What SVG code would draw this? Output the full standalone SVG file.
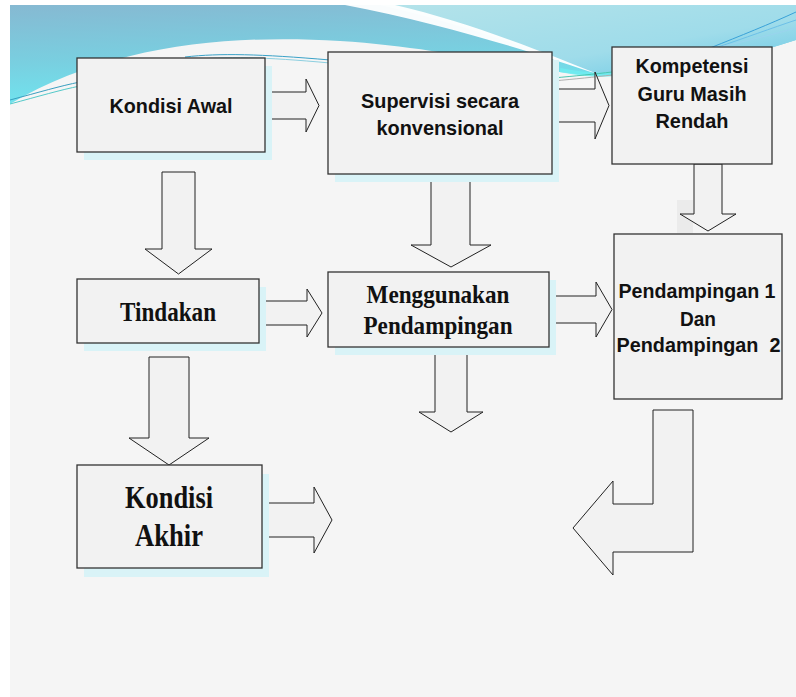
<svg xmlns="http://www.w3.org/2000/svg" width="796" height="697" viewBox="0 0 796 697">
<defs>
<linearGradient id="gBlue" x1="0" y1="0" x2="0.25" y2="1">
<stop offset="0" stop-color="#86b9d2"/>
<stop offset="0.55" stop-color="#79cfe0"/>
<stop offset="1" stop-color="#6fe6f0"/>
</linearGradient>
<linearGradient id="gRight" x1="0" y1="0" x2="1" y2="1">
<stop offset="0" stop-color="#b4e3ea"/>
<stop offset="0.6" stop-color="#9fdcea"/>
<stop offset="1" stop-color="#64c6e4"/>
</linearGradient>
<style>
.box{fill:#f2f2f2;stroke:#333;stroke-width:1.3}
.sh{fill:#d9f3f7}
.arr{fill:#f2f2f2;stroke:#222;stroke-width:1}
.sans{font-family:"Liberation Sans",Arial,sans-serif;font-weight:bold;font-size:21px;fill:#111;text-anchor:middle}
.serif{font-family:"Liberation Serif","Times New Roman",serif;font-weight:bold;fill:#111;text-anchor:middle}
.deco{fill:none;stroke-width:1}
</style>
</defs>
<rect x="0" y="0" width="796" height="697" fill="#ffffff"/>
<rect x="10" y="5" width="786" height="692" fill="#f5f5f5"/>
<!-- header decoration -->
<path d="M10,5 H796 V40 C760,52 720,62 680,68 C650,72 620,76 600,76 C530,72 450,48 340,41 C230,34 110,45 10,104 Z" fill="url(#gBlue)"/>
<path d="M380,5 H796 V40 C760,52 720,62 680,68 C650,72 620,76 600,76 C560,60 470,25 380,5 Z" fill="url(#gRight)"/>
<path d="M345,5 L395,5 C470,22 550,55 603,76 C540,55 450,25 345,5 Z" fill="#ffffff" opacity="0.95"/>
<path d="M560,70 C580,74 600,76 615,74" fill="none" stroke="#6eeef0" stroke-width="4" opacity="0.8"/>
<path class="deco" d="M10,100 C40,92 60,86 80,82" stroke="#3a9fc0"/>
<path class="deco" d="M10,104 C40,96 60,90 80,86" stroke="#54c9c9"/>
<path class="deco" d="M185,57 C220,53 260,54 330,60" stroke="#3aa2c8"/>
<path class="deco" d="M190,60 C225,56 265,57 330,63" stroke="#8ccfe0"/>
<path class="deco" d="M553,78 C575,76 595,74 612,72" stroke="#4cc6b0"/>
<path class="deco" d="M553,81 C575,79 595,77 612,75" stroke="#b0b0b0"/>
<path class="deco" d="M710,48 C740,36 770,24 796,12" stroke="#3aa2d8"/>
<path class="deco" d="M715,48 C745,38 772,28 796,20" stroke="#6cc0e8"/>
<path class="deco" d="M720,47 C750,40 775,34 796,28" stroke="#9ad4ee"/>
<rect x="677" y="200" width="16" height="33" fill="#ebebeb"/>

<g id="connectors">
<polygon class="arr" points="268,92 306,92 306,79 319,105.5 306,132 306,119 268,119"/>
<polygon class="arr" points="553,89 595,89 595,72 609,105.5 595,139 595,122 553,122"/>
<polygon class="arr" points="694,164 722,164 722,214 736,214 708,231 680,214 694,214"/>
<polygon class="arr" points="162,172 195,172 195,249 212,249 178.5,274 145,249 162,249"/>
<polygon class="arr" points="431,179 470,179 470,245 491,245 451,267 411,245 431,245"/>
<polygon class="arr" points="262,301 307,301 307,289 322,313 307,337 307,325 262,325"/>
<polygon class="arr" points="552,296 596,296 596,282 612,309.5 596,337 596,323 552,323"/>
<polygon class="arr" points="435,352 467,352 467,412 483,412 451,432 419,412 435,412"/>
<polygon class="arr" points="149,357 189,357 189,438 209,438 169,465 129,438 149,438"/>
<polygon class="arr" points="265,503 314,503 314,487 332,520 314,553 314,537 265,537"/>
<polygon class="arr" points="653,410 693,410 693,552 613,552 613,575 573,528 613,481 613,504 653,504"/>
</g>

<g id="kondisi-awal">
<rect class="sh" x="84" y="66" width="188" height="94"/>
<rect class="box" x="77" y="58" width="188" height="94"/>
<text class="sans" x="171" y="113" textLength="123" lengthAdjust="spacingAndGlyphs">Kondisi Awal</text>
</g>

<g id="supervisi">
<rect class="sh" x="335" y="60" width="224" height="122"/>
<rect class="box" x="328" y="52" width="224" height="122"/>
<text class="sans" x="440" y="108" font-size="22" textLength="158" lengthAdjust="spacingAndGlyphs">Supervisi secara</text>
<text class="sans" x="440" y="135" font-size="22" textLength="127" lengthAdjust="spacingAndGlyphs">konvensional</text>
</g>

<g id="kompetensi">
<rect class="box" x="612" y="47" width="160" height="117"/>
<text class="sans" x="692" y="73" font-size="22" textLength="113" lengthAdjust="spacingAndGlyphs">Kompetensi</text>
<text class="sans" x="692" y="101" font-size="22" textLength="109" lengthAdjust="spacingAndGlyphs">Guru Masih</text>
<text class="sans" x="692" y="128" font-size="22" textLength="73" lengthAdjust="spacingAndGlyphs">Rendah</text>
</g>

<g id="tindakan">
<rect class="sh" x="84" y="287" width="182" height="64"/>
<rect class="box" x="77" y="279" width="182" height="64"/>
<text class="serif" x="168" y="321" font-size="27" textLength="96" lengthAdjust="spacingAndGlyphs">Tindakan</text>
</g>

<g id="menggunakan">
<rect class="sh" x="335" y="280" width="221" height="75"/>
<rect class="box" x="328" y="272" width="221" height="75"/>
<text class="serif" x="438" y="303" font-size="26" textLength="143" lengthAdjust="spacingAndGlyphs">Menggunakan</text>
<text class="serif" x="438" y="334" font-size="26" textLength="149" lengthAdjust="spacingAndGlyphs">Pendampingan</text>
</g>

<g id="pendampingan">
<rect class="box" x="614" y="234" width="168" height="165"/>
<text class="sans" x="697" y="298" font-size="20" textLength="157" lengthAdjust="spacingAndGlyphs">Pendampingan 1</text>
<text class="sans" x="698" y="326" font-size="20" textLength="36" lengthAdjust="spacingAndGlyphs">Dan</text>
<text class="sans" x="698.5" y="352" font-size="20" textLength="164" lengthAdjust="spacingAndGlyphs" xml:space="preserve">Pendampingan  2</text>
</g>

<g id="kondisi-akhir">
<rect class="sh" x="84" y="474" width="185" height="103"/>
<rect class="box" x="77" y="465" width="185" height="103"/>
<text class="serif" x="169" y="508" font-size="31" textLength="88" lengthAdjust="spacingAndGlyphs">Kondisi</text>
<text class="serif" x="169" y="546" font-size="31" textLength="68" lengthAdjust="spacingAndGlyphs">Akhir</text>
</g>
</svg>
